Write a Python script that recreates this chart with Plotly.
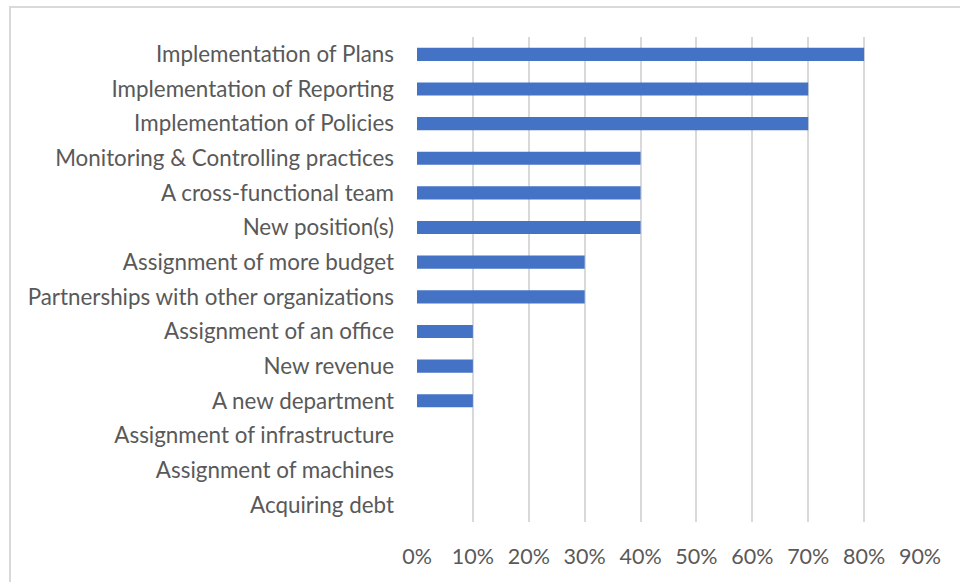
import plotly.graph_objects as go

# Measures adopted, top to bottom
categories = [
    "Implementation of Plans",
    "Implementation of Reporting",
    "Implementation of Policies",
    "Monitoring & Controlling practices",
    "A cross-functional team",
    "New position(s)",
    "Assignment of more budget",
    "Partnerships with other organizations",
    "Assignment of an office",
    "New revenue",
    "A new department",
    "Assignment of infrastructure",
    "Assignment of machines",
    "Acquiring debt",
]
shares = [0.80, 0.70, 0.70, 0.40, 0.40, 0.40, 0.30, 0.30, 0.10, 0.10, 0.10, 0.0, 0.0, 0.0]
tick_values = [0.0, 0.1, 0.2, 0.3, 0.4, 0.5, 0.6, 0.7, 0.8, 0.9]
tick_labels = ["0%", "10%", "20%", "30%", "40%", "50%", "60%", "70%", "80%", "90%"]

W, H = 960, 582
ML, MR, MT, MB = 417, 40, 37, 60

fig = go.Figure(
    go.Bar(
        x=shares,
        y=categories,
        orientation="h",
        marker=dict(color="#4472C4", line=dict(width=0)),
        hoverinfo="x+y",
    )
)

fig.update_layout(
    width=W,
    height=H,
    margin=dict(l=ML, r=MR, t=MT, b=MB),
    paper_bgcolor="white",
    plot_bgcolor="white",
    bargap=0.62,
    showlegend=False,
    font=dict(family="Lato, Carlito, sans-serif", color="#595959", size=22),
)

fig.update_xaxes(
    range=[0, 0.9],
    tickvals=tick_values,
    ticktext=tick_labels,
    showgrid=True,
    gridcolor="#d9d9d9",
    gridwidth=1.5,
    zeroline=False,
    showline=False,
    ticks="",
    ticklabelstandoff=19,
    tickfont=dict(size=21.5, color="#595959"),
    fixedrange=True,
)

fig.update_yaxes(
    autorange="reversed",
    showgrid=False,
    zeroline=False,
    showline=False,
    ticks="",
    ticklabelstandoff=22,
    tickfont=dict(size=22.4, color="#595959"),
    fixedrange=True,
)

# Light frame around the whole chart area
plot_w = W - ML - MR
plot_h = H - MT - MB
fig.add_shape(
    type="rect",
    xref="paper",
    yref="paper",
    x0=(10 - ML) / plot_w,
    x1=(W + 5 - ML) / plot_w,
    y0=1 - (H + 5 - MT) / plot_h,
    y1=1 - (7 - MT) / plot_h,
    line=dict(color="#d9d9d9", width=2),
    fillcolor="rgba(0,0,0,0)",
    layer="below",
)

fig.write_html("out.html")
